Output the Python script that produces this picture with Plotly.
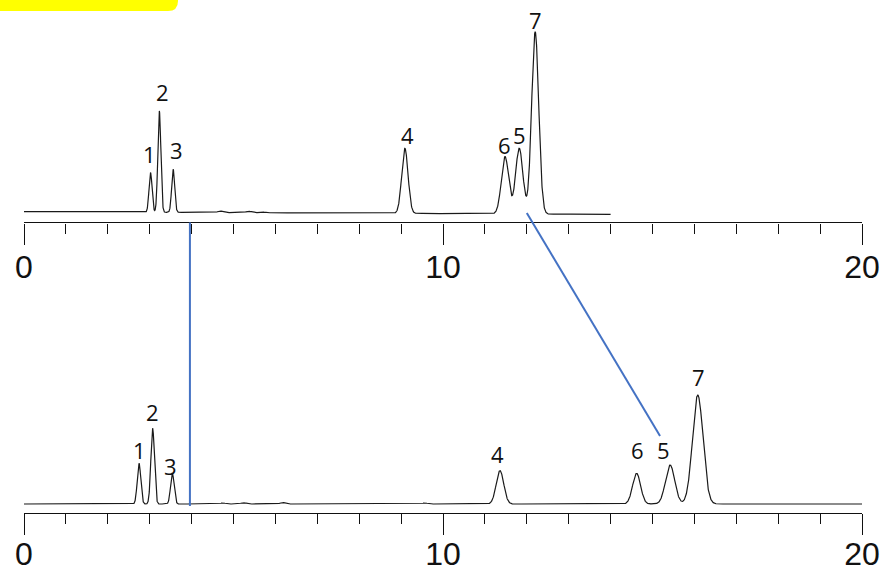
import numpy as np
import plotly.graph_objects as go

# ---- peak tables (retention time in min, height and width in signal units) ----
peak_ids = ["1", "2", "3", "4", "5", "6", "7"]

top_rt = [3.02, 3.23, 3.56, 9.09, 11.82, 11.48, 12.20]
top_height = [39.6, 101.3, 43.0, 65.1, 65.6, 57.2, 182.2]
top_sigma = [0.036, 0.036, 0.036, 0.075, 0.087, 0.087, 0.084]

bottom_rt = [2.745, 3.07, 3.54, 11.36, 15.42, 14.62, 16.08]
bottom_height = [40.7, 75.7, 30.7, 33.3, 39.0, 30.7, 109.0]
bottom_sigma = [0.042, 0.042, 0.042, 0.09, 0.11, 0.095, 0.125]

# small baseline disturbances
top_minor_rt = [4.68, 5.36, 5.67]
top_minor_height = [1.5, 1.5, 1.0]
bottom_minor_rt = [4.75, 5.23, 6.17, 9.57]
bottom_minor_height = [1.0, 1.2, 1.5, 1.0]

# baseline level at start and end of each run
top_baseline = [0.8, -1.8]
bottom_baseline = [0.0, 0.0]

# run lengths (min)
top_run_end = 14.0
bottom_run_end = 20.0

# marker lines linking the two runs: (time on upper run, time on lower run)
link_top_rt = [3.96, 12.00]
link_bottom_rt = [3.96, 15.18]
link_top_level = [-10.0, -0.5]
link_bottom_level = [-2.0, 68.0]


def chromatogram(t_end, rts, heights, sigmas, minor_rt, minor_h, base):
    t = np.linspace(0.0, t_end, int(t_end * 400) + 1)
    y = base[0] + (base[1] - base[0]) * t / t_end
    for rt, h, s in zip(rts, heights, sigmas):
        y = y + h * np.exp(-0.5 * ((t - rt) / s) ** 2)
    for rt, h in zip(minor_rt, minor_h):
        y = y + h * np.exp(-0.5 * ((t - rt) / 0.06) ** 2)
    return t, y


def baseline_at(t, t_end, base):
    return base[0] + (base[1] - base[0]) * t / t_end


t1, y1 = chromatogram(top_run_end, top_rt, top_height, top_sigma,
                      top_minor_rt, top_minor_height, top_baseline)
t2, y2 = chromatogram(bottom_run_end, bottom_rt, bottom_height, bottom_sigma,
                      bottom_minor_rt, bottom_minor_height, bottom_baseline)

# ---- layout geometry ----
W, H = 891, 574
M_L, M_R, M_T, M_B = 24, 29, 0, 61
plot_h = H - M_T - M_B

top_dom = [0.5663, 1.0]
top_range = [-10.0, 212.5]
bot_dom = [0.0, 0.4347]
bot_range = [-9.0, 214.0]


def to_paper(v, dom, rng):
    return dom[0] + (v - rng[0]) / (rng[1] - rng[0]) * (dom[1] - dom[0])


line_style = dict(color="#1a1a1a", width=1.2)

fig = go.Figure()
fig.add_trace(go.Scatter(x=t1, y=y1, mode="lines", line=line_style,
                         xaxis="x", yaxis="y", hoverinfo="skip"))
fig.add_trace(go.Scatter(x=t2, y=y2, mode="lines", line=line_style,
                         xaxis="x2", yaxis="y2", hoverinfo="skip"))

axis_font = dict(family="Liberation Sans, Arial, sans-serif", size=32, color="#111")
x_common = dict(
    range=[0, 20], showgrid=False, zeroline=False, automargin=False,
    showline=True, linecolor="#111", linewidth=1.3,
    ticks="outside", ticklen=21, tickwidth=1.3, tickcolor="#111",
    tick0=0, dtick=10, tickfont=axis_font,
    minor=dict(ticks="outside", dtick=1, ticklen=10, tickwidth=1.3,
               tickcolor="#111", showgrid=False),
    fixedrange=True,
)
y_common = dict(visible=False, showgrid=False, zeroline=False, fixedrange=True)

fig.update_layout(
    width=W, height=H,
    margin=dict(l=M_L, r=M_R, t=M_T, b=M_B),
    paper_bgcolor="white", plot_bgcolor="white",
    showlegend=False,
    xaxis=dict(x_common, anchor="y", ticklabelstandoff=-5),
    yaxis=dict(y_common, domain=top_dom, range=top_range),
    xaxis2=dict(x_common, anchor="y2", ticklabelstandoff=-9),
    yaxis2=dict(y_common, domain=bot_dom, range=bot_range),
)

# ---- peak numbers ----
label_font = dict(family="Open Sans, Noto Sans, sans-serif", size=22, color="#111")
top_lift = [18.2, 18.5, 19.5, 12.8, 12.8, 11.7, 11.7]
top_xshift = [-0.7, 3.2, 3.2, 2.5, 0.7, -1.0, 0.5]
bot_lift = [13.3, 15.8, 6.8, 16.2, 15.0, 22.8, 17.8]
bot_xshift = [0.0, -0.2, -2.3, -2.5, -6.5, 1.3, 0.3]

for pid, rt, h, lift, dx in zip(peak_ids, top_rt, top_height, top_lift, top_xshift):
    fig.add_annotation(x=rt, y=h + baseline_at(rt, top_run_end, top_baseline) + lift,
                       xref="x", yref="y", text=pid, showarrow=False,
                       font=label_font, xanchor="center", yanchor="middle",
                       xshift=dx)
for pid, rt, h, lift, dx in zip(peak_ids, bottom_rt, bottom_height, bot_lift, bot_xshift):
    fig.add_annotation(x=rt, y=h + baseline_at(rt, bottom_run_end, bottom_baseline) + lift,
                       xref="x2", yref="y2", text=pid, showarrow=False,
                       font=label_font, xanchor="center", yanchor="middle",
                       xshift=dx)

# ---- lines linking the two runs ----
for ta, tb, va, vb in zip(link_top_rt, link_bottom_rt, link_top_level, link_bottom_level):
    fig.add_shape(type="line", xref="x", yref="paper",
                  x0=ta, y0=to_paper(va, top_dom, top_range),
                  x1=tb, y1=to_paper(vb, bot_dom, bot_range),
                  line=dict(color="#4472C4", width=2))

# ---- highlight tab in the top-left corner ----
px_w = W - M_L - M_R
x0 = -40 / px_w
x1 = (178 - M_L) / px_w
y_top = 1.05
y_bot = 1 - 11 / plot_h
rx = 10 / px_w
ry = 10 / plot_h
tab_path = (f"M {x0},{y_top} L {x1},{y_top} L {x1},{y_bot + ry} "
            f"Q {x1},{y_bot} {x1 - rx},{y_bot} L {x0},{y_bot} Z")
fig.add_shape(type="path", xref="paper", yref="paper", path=tab_path,
              fillcolor="#FFFF00", line=dict(width=0))

fig.write_html("out.html", config={"displayModeBar": False})
